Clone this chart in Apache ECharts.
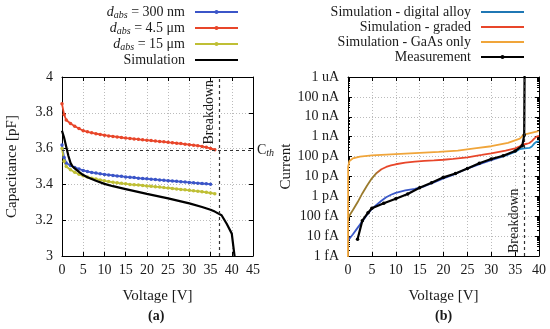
<!DOCTYPE html>
<html><head><meta charset="utf-8">
<script src="https://cdn.jsdelivr.net/npm/echarts@6/dist/echarts.min.js"></script>
<style>html,body{margin:0;padding:0;background:#fff}#c{width:550px;height:329px}</style>
</head><body><div id="c"></div>
<script>
// ---- Panel (a): capacitance ----
const capXTicks = [0,5,10,15,20,25,30,35,40,45];
const capYTicks = [3,3.2,3.4,3.6,3.8,4];
const v300 = [0,0.5,1,2,3,4,5,6,7,8,9,10,11,12,13,14,15,16,17,18,19,20,21,22,23,24,25,26,27,28,29,30,31,32,33,34,35];
const c300 = [3.62,3.55,3.52,3.505,3.495,3.486,3.478,3.472,3.467,3.463,3.459,3.456,3.453,3.45,3.447,3.445,3.442,3.44,3.438,3.435,3.433,3.431,3.429,3.427,3.425,3.423,3.421,3.419,3.417,3.415,3.413,3.411,3.409,3.407,3.405,3.403,3.401];
const v45 = [0,0.5,1,2,3,4,5,6,7,8,9,10,11,12,13,14,15,16,17,18,19,20,21,22,23,24,25,26,27,28,29,30,31,32,33,34,35,36];
const c45 = [3.85,3.79,3.76,3.74,3.725,3.712,3.70,3.694,3.688,3.683,3.679,3.675,3.671,3.668,3.665,3.662,3.659,3.657,3.654,3.652,3.649,3.647,3.645,3.642,3.64,3.638,3.635,3.633,3.63,3.628,3.625,3.622,3.619,3.616,3.612,3.607,3.601,3.594];
const v15 = [0,0.5,1,2,3,4,5,6,7,8,9,10,11,12,13,14,15,16,17,18,19,20,21,22,23,24,25,26,27,28,29,30,31,32,33,34,35,36];
const c15 = [3.60,3.53,3.50,3.482,3.468,3.457,3.448,3.441,3.435,3.43,3.425,3.42,3.416,3.412,3.409,3.406,3.403,3.4,3.398,3.396,3.394,3.391,3.389,3.387,3.385,3.382,3.38,3.377,3.375,3.372,3.37,3.367,3.364,3.362,3.359,3.356,3.352,3.348];
const vSimA = [0,0.5,1,1.5,2,2.5,3,4,5,6,7,8,10,12,15,20,25,30,33,35,36,37.6,38.8,40,40.7];
const cSimA = [3.70,3.66,3.61,3.56,3.52,3.50,3.49,3.47,3.452,3.44,3.43,3.42,3.403,3.39,3.374,3.347,3.322,3.294,3.274,3.258,3.248,3.228,3.18,3.125,2.99];
const cTh = 3.59;
const breakdownV = 37;

// ---- Panel (b): current ----
const curXTicks = [0,5,10,15,20,25,30,35,40];
const curYLabels = ['1 fA','10 fA','100 fA','1 pA','10 pA','100 pA','1 nA','10 nA','100 nA','1 uA'];
const vDig = [0,1,2,3,4,5,6,7,8,9,10,12,14,16,18,20,22,25,28,30,33,35,36,37,38,38.5,39,39.5,40];
const iDig = [6e-15,1.2e-14,2.6e-14,5.5e-14,1.2e-13,2.3e-13,3.8e-13,6e-13,9e-13,1.2e-12,1.5e-12,2e-12,2.4e-12,3.2e-12,5e-12,8e-12,1.2e-11,2.5e-11,4.5e-11,6.6e-11,1.1e-10,1.7e-10,2.4e-10,2.6e-10,2.7e-10,3.2e-10,4.5e-10,5.5e-10,6e-10];
const vGrad = [0,0.5,1,2,3,4,5,6,7,8,9,10,12,14,16,18,20,22,25,28,30,33,35,36,36.5,37.5,38,38.5,39,39.5,40];
const iGrad = [8e-14,1.3e-13,2e-13,5e-13,1.4e-12,3.5e-12,8e-12,1.5e-11,2.3e-11,3e-11,3.6e-11,4.1e-11,4.9e-11,5.5e-11,6e-11,6.4e-11,6.9e-11,7.6e-11,9.2e-11,1.2e-10,1.45e-10,2e-10,2.6e-10,3.3e-10,4e-10,4.4e-10,4.8e-10,6e-10,8e-10,1e-9,1.1e-9];
const vGaAs = [0,0.02,0.3,1,2.5,5,9,14,19,23,26.5,30,33.5,36,36.7,37.5,39.9];
const iGaAs = [1e-16,3e-11,6e-11,8e-11,1e-10,1.15e-10,1.3e-10,1.5e-10,1.7e-10,2e-10,2.6e-10,3.3e-10,4.9e-10,8e-10,1.2e-9,1.4e-9,1.9e-9];
const vMeas = [2,3,4.2,5,7.5,10,12.5,15,17.5,20,22.5,25,27.5,30,32.5,35,36.5,36.9,37];
const iMeas = [7e-15,6e-14,1.5e-13,2.5e-13,4.5e-13,7.6e-13,1.3e-12,2.7e-12,4.8e-12,9e-12,1.4e-11,2.5e-11,4.6e-11,7.5e-11,1.1e-10,1.9e-10,3.5e-10,1.2e-9,1e-5];

const zip = (a,b)=>a.map((x,i)=>[x,b[i]]);
const FF = '"Liberation Serif", "DejaVu Serif", serif';
const TXT = '#1a1a1a';
const BLUE='#1f77b4', RED='#e8462a', YEL='#f0a53a';

const chart = echarts.init(document.getElementById('c'), null, {renderer:'canvas'});
const G1 = {left:62, top:77, width:191, height:179};
const G2 = {left:348, top:77, width:191, height:179};

function frameAxis(base){ return Object.assign({
  axisLine:{show:true, onZero:false, lineStyle:{color:'#000', width:1}},
  axisTick:{show:true, inside:true, length:4, lineStyle:{color:'#000'}},
  axisLabel:{show:false}, splitLine:{show:false}}, base); }

const lbl = {fontFamily:FF, fontSize:14, color:TXT};
const nameStyle = {fontFamily:FF, fontSize:15, color:TXT};
const decade = v => { const e = Math.round(Math.log10(v)); return curYLabels[e+15] || ''; };

const dlRich = {
  i:{fontFamily:FF, fontSize:14, fontStyle:'italic', color:TXT},
  s:{fontFamily:FF, fontSize:10, fontStyle:'italic', color:TXT, verticalAlign:'bottom', padding:[6,0,0,0]},
  n:{fontFamily:FF, fontSize:14, color:TXT}
};
const dlFmt = name => { if(name.indexOf('dabs')===0){ return '{i|d}{s|abs}{n|'+name.slice(4)+'}'; } return '{n|'+name+'}'; };
const noDot = {opacity:0};

// horizontal colour shift along a curve (fractions of the curve's voltage span)
const hGrad = (stops)=> new echarts.graphic.LinearGradient(0,0,1,0, stops.map(s=>({offset:s[0], color:s[1]})));
const gradedColor = hGrad([[0,'#9a7a2c'],[0.15,'#9a7a2c'],[0.19,RED],[1,RED]]);
const digitalColor = hGrad([[0,'#3a58c8'],[0.75,'#3a58c8'],[0.88,'#1f8ac8'],[1,'#1f8ac8']]);

const dashLine = {type:[3,3], color:'#333', width:1.2};

chart.setOption({
  animation:false,
  grid:[G1,G2],
  legend:[{
    orient:'vertical', right:306, top:0, align:'right', itemWidth:43, itemHeight:5, itemGap:1,
    textStyle:{fontFamily:FF, fontSize:14, color:TXT, padding:[0,5,0,0], rich:dlRich},
    formatter: dlFmt,
    data:['dabs = 300 nm','dabs = 4.5 μm','dabs = 15 μm',{name:'Simulation', itemStyle:noDot}]
  },{
    orient:'vertical', right:20, top:0, align:'right', itemWidth:43, itemHeight:5, itemGap:1,
    textStyle:{fontFamily:FF, fontSize:14, color:TXT, padding:[0,5,0,0]},
    data:[{name:'Simulation - digital alloy', itemStyle:noDot, lineStyle:{color:BLUE}},
          {name:'Simulation - graded', itemStyle:noDot, lineStyle:{color:RED}},
          {name:'Simulation - GaAs only', itemStyle:noDot},'Measurement']
  }],
  xAxis:[
    {gridIndex:0, type:'value', min:capXTicks[0], max:capXTicks[capXTicks.length-1], interval:5,
     name:'Voltage [V]', nameLocation:'middle', nameGap:33, nameTextStyle:nameStyle,
     axisLine:{onZero:false, lineStyle:{color:'#000'}}, axisTick:{inside:true, length:4, lineStyle:{color:'#000'}},
     axisLabel:Object.assign({margin:7}, lbl),
     splitLine:{show:true, lineStyle:{type:[1,2], color:'#bbb'}}},
    frameAxis({gridIndex:0, type:'value', position:'top', min:0, max:45, interval:5}),
    {gridIndex:1, type:'value', min:curXTicks[0], max:curXTicks[curXTicks.length-1], interval:5,
     name:'Voltage [V]', nameLocation:'middle', nameGap:33, nameTextStyle:nameStyle,
     axisLine:{onZero:false, lineStyle:{color:'#000'}}, axisTick:{inside:true, length:4, lineStyle:{color:'#000'}},
     axisLabel:Object.assign({margin:7}, lbl),
     splitLine:{show:true, lineStyle:{type:[1,2], color:'#bbb'}}},
    frameAxis({gridIndex:1, type:'value', position:'top', min:0, max:40, interval:5})
  ],
  yAxis:[
    {gridIndex:0, type:'value', min:capYTicks[0], max:capYTicks[capYTicks.length-1], interval:0.2,
     name:'Capacitance [pF]', nameLocation:'middle', nameGap:42, nameTextStyle:nameStyle,
     axisLine:{onZero:false, lineStyle:{color:'#000'}}, axisTick:{inside:true, length:4, lineStyle:{color:'#000'}},
     axisLabel:Object.assign({margin:9, formatter:v=>String(Math.round(v*10)/10)}, lbl),
     splitLine:{show:true, lineStyle:{type:[1,2], color:'#bbb'}}},
    frameAxis({gridIndex:0, type:'value', position:'right', min:3, max:4, interval:0.2}),
    {gridIndex:1, type:'log', logBase:10, min:1e-15, max:1e-6,
     name:'Current', nameLocation:'middle', nameGap:51, nameTextStyle:nameStyle,
     axisLine:{onZero:false, lineStyle:{color:'#000'}}, axisTick:{inside:true, length:4, lineStyle:{color:'#000'}},
     minorTick:{show:true, splitNumber:9, length:2, lineStyle:{color:'#000'}},
     axisLabel:Object.assign({margin:9, formatter:decade}, lbl),
     splitLine:{show:true, lineStyle:{type:[1,2], color:'#bbb'}}},
    frameAxis({gridIndex:1, type:'log', logBase:10, position:'right', min:1e-15, max:1e-6,
     minorTick:{show:true, splitNumber:9, length:2, lineStyle:{color:'#000'}}})
  ],
  series:[
    {name:'dabs = 300 nm', type:'line', xAxisIndex:0, yAxisIndex:0, data:zip(v300,c300), color:'#3b55c8',
     symbol:'circle', symbolSize:3.5, lineStyle:{width:1.8}, z:3},
    {name:'dabs = 4.5 μm', type:'line', xAxisIndex:0, yAxisIndex:0, data:zip(v45,c45), color:RED,
     symbol:'circle', symbolSize:3.5, lineStyle:{width:1.8}, z:3},
    {name:'dabs = 15 μm', type:'line', xAxisIndex:0, yAxisIndex:0, data:zip(v15,c15), color:'#bfbf35',
     symbol:'circle', symbolSize:3.5, lineStyle:{width:1.8}, z:3},
    {name:'Simulation', type:'line', xAxisIndex:0, yAxisIndex:0, data:zip(vSimA,cSimA), color:'#000',
     symbol:'none', lineStyle:{width:2.2}, z:4,
     markLine:{silent:true, symbol:['none','none'], lineStyle:dashLine, animation:false,
       data:[
        {xAxis:breakdownV, label:{show:true, position:'insideEndTop', formatter:'Breakdown', fontFamily:FF, fontSize:14, color:TXT, distance:3}},
        {yAxis:cTh, label:{show:true, position:'end', distance:4, formatter:'{c|C}{s|th}',
          rich:{c:{fontFamily:FF, fontSize:14, color:TXT}, s:{fontFamily:FF, fontSize:10, fontStyle:'italic', color:TXT, verticalAlign:'bottom', padding:[6,0,0,0]}}}}
       ]}},
    {name:'Simulation - digital alloy', type:'line', xAxisIndex:2, yAxisIndex:2, data:zip(vDig,iDig), color:BLUE,
     symbol:'none', lineStyle:{width:1.8, color:digitalColor}, z:3},
    {name:'Simulation - graded', type:'line', xAxisIndex:2, yAxisIndex:2, data:zip(vGrad,iGrad), color:RED,
     symbol:'none', lineStyle:{width:1.8, color:gradedColor}, z:3},
    {name:'Simulation - GaAs only', type:'line', xAxisIndex:2, yAxisIndex:2, data:zip(vGaAs,iGaAs), color:YEL,
     symbol:'none', lineStyle:{width:1.8}, z:3},
    {name:'Measurement', type:'line', xAxisIndex:2, yAxisIndex:2, data:zip(vMeas,iMeas), color:'#000',
     symbol:'circle', symbolSize:3.5, lineStyle:{width:2.2}, z:4,
     markLine:{silent:true, symbol:['none','none'], lineStyle:dashLine, animation:false,
       data:[{xAxis:breakdownV, label:{show:true, position:'insideStartTop', formatter:'Breakdown', fontFamily:FF, fontSize:14, color:TXT, distance:3}}]}}
  ],
  graphic:[
    {type:'text', left:148, top:309, style:{text:'(a)', font:'bold 14px '+FF, fill:TXT}},
    {type:'text', left:435, top:309, style:{text:'(b)', font:'bold 14px '+FF, fill:TXT}}
  ]
});
</script></body></html>
